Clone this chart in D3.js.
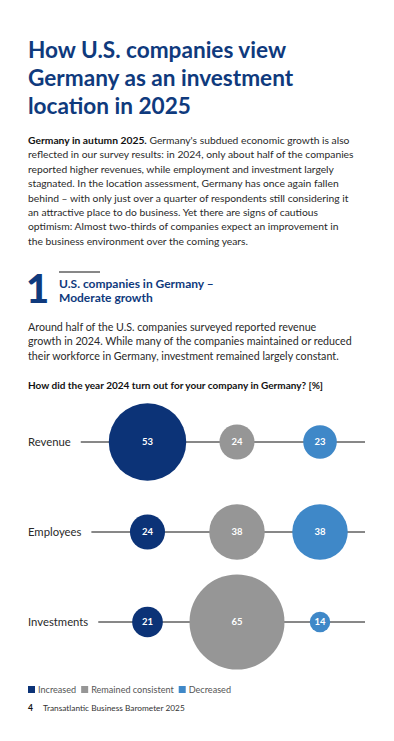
<!DOCTYPE html>
<html><head><meta charset="utf-8">
<script src="https://cdn.jsdelivr.net/npm/d3@7"></script>
<style>
html,body{margin:0;padding:0;background:#fff;}
svg{display:block;}
</style></head>
<body>
<svg id="c" width="394" height="741"></svg>
<script>
const categories = ["Revenue", "Employees", "Investments"];
const seriesNames = ["Increased", "Remained consistent", "Decreased"];
const increased = [53, 24, 21];
const consistent = [24, 38, 65];
const decreased = [23, 38, 14];
const colors = ["#0c3377", "#969696", "#3f88c8"];

const titleLines = ["How U.S. companies view", "Germany as an investment", "location in 2025"];
const introBold = "Germany in autumn 2025.";
const introLines = [
  " Germany's subdued economic growth is also",
  "reflected in our survey results: in 2024, only about half of the companies",
  "reported higher revenues, while employment and investment largely",
  "stagnated. In the location assessment, Germany has once again fallen",
  "behind \u2013 with only just over a quarter of respondents still considering it",
  "an attractive place to do business. Yet there are signs of cautious",
  "optimism: Almost two-thirds of companies expect an improvement in",
  "the business environment over the coming years."
];
const sectionNum = "1";
const sectionTitle = ["U.S. companies in Germany \u2013", "Moderate growth"];
const paraLines = [
  "Around half of the U.S. companies surveyed reported revenue",
  "growth in 2024. While many of the companies maintained or reduced",
  "their workforce in Germany, investment remained largely constant."
];
const question = "How did the year 2024 turn out for your company in Germany? [%]";
const footerNum = "4";
const footerText = "Transatlantic Business Barometer 2025";

const FONT = "Lato, 'Open Sans', sans-serif";
const navy = "#0f3a7d";
const textCol = "#2a2a2a";
const svg = d3.select("#c");

// Title
svg.append("g").selectAll("text").data(titleLines).join("text")
  .attr("x", 28).attr("y", (d,i)=>58 + i*28)
  .attr("font-family", FONT).attr("font-weight", 700).attr("font-size", 22.6)
  .attr("fill", navy).text(d=>d);

// Intro paragraph
const intro = svg.append("g").attr("font-family", FONT).attr("font-size", 10.3).attr("fill", textCol);
introLines.forEach((l,i)=>{
  const t = intro.append("text").attr("x", 28).attr("y", 144 + i*14.4);
  if(i===0){
    t.append("tspan").attr("font-weight", 700).attr("fill","#111").text(introBold);
  }
  t.append("tspan").text(l);
});

// Section header
svg.append("text").attr("x", 26).attr("y", 303)
  .attr("font-family", FONT).attr("font-weight", 900).attr("font-size", 40)
  .attr("fill", navy).text(sectionNum);
svg.append("line").attr("x1", 59).attr("x2", 100).attr("y1", 272).attr("y2", 272)
  .attr("stroke", "#111").attr("stroke-width", 1);
svg.append("g").selectAll("text").data(sectionTitle).join("text")
  .attr("x", 59).attr("y", (d,i)=>288 + i*14)
  .attr("font-family", FONT).attr("font-weight", 700).attr("font-size", 12)
  .attr("fill", navy).text(d=>d);

// paragraph
svg.append("g").selectAll("text").data(paraLines).join("text")
  .attr("x", 28).attr("y", (d,i)=>331 + i*14.4)
  .attr("font-family", FONT).attr("font-size", 10.7).attr("fill", textCol).text(d=>d);

// Question
svg.append("text").attr("x", 28).attr("y", 389)
  .attr("font-family", FONT).attr("font-weight", 700).attr("font-size", 10)
  .attr("fill", "#111").text(question);

// Chart
const y = d3.scalePoint().domain(categories).range([442, 622]);
const x = d3.scaleOrdinal().domain(seriesNames).range([147.5, 237, 320]);
const r = d3.scaleLinear().domain([0, 65]).range([0, 47.5]);
const lineEnd = 365;

const rows = categories.map((c,i)=>({cat:c, vals:[increased[i], consistent[i], decreased[i]]}));
const chart = svg.append("g");
rows.forEach(row=>{
  const g = chart.append("g").attr("transform", `translate(0,${y(row.cat)})`);
  const lbl = g.append("text").attr("x", 28).attr("y", 0).attr("dy", "0.35em")
    .attr("font-family", FONT).attr("font-size", 11.3).attr("fill", textCol).text(row.cat);
  const w = lbl.node().getComputedTextLength();
  g.append("line").attr("x1", 28 + w + 10).attr("x2", lineEnd).attr("y1", 0).attr("y2", 0)
    .attr("stroke", "#111").attr("stroke-width", 1);
  row.vals.forEach((v,j)=>{
    g.append("circle").attr("cx", x(seriesNames[j])).attr("cy", 0).attr("r", r(v)).attr("fill", colors[j]);
    g.append("text").attr("x", x(seriesNames[j])).attr("y", 0).attr("dy", "0.35em")
      .attr("text-anchor", "middle").attr("font-family", FONT).attr("font-weight", 700)
      .attr("font-size", 9.5).attr("fill", "#fff").text(v);
  });
});

// Legend
const leg = svg.append("g").attr("font-family", FONT).attr("font-size", 9.1).attr("fill", "#555");
let lx = 28;
seriesNames.forEach((s,i)=>{
  leg.append("rect").attr("x", lx).attr("y", 686).attr("width", 7).attr("height", 7).attr("fill", colors[i]);
  const t = leg.append("text").attr("x", lx + 10).attr("y", 692.5).text(s);
  lx += 10 + t.node().getComputedTextLength() + 5;
});

// Footer
svg.append("text").attr("x", 28).attr("y", 711).attr("font-family", FONT).attr("font-weight", 700)
  .attr("font-size", 8.5).attr("fill", "#111").text(footerNum);
svg.append("text").attr("x", 43).attr("y", 711).attr("font-family", FONT)
  .attr("font-size", 8.3).attr("fill", "#333").text(footerText);
</script>
</body></html>
